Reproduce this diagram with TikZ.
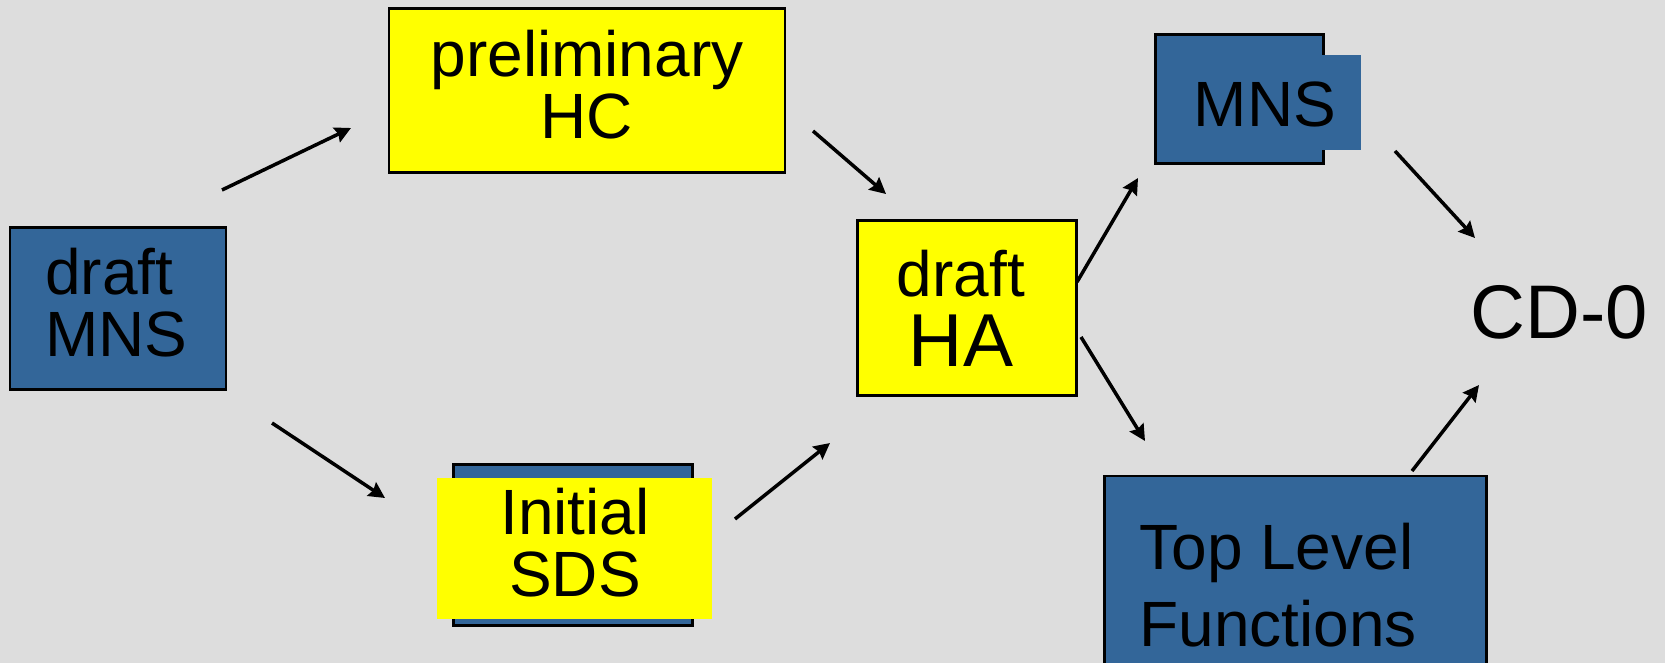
\documentclass[tikz,border=0pt]{standalone}
\usepackage{fontspec}
\setmainfont{Liberation Sans}
\usetikzlibrary{arrows.meta}
\definecolor{bgGrey}{HTML}{DDDDDD}
\definecolor{boxBlue}{HTML}{336699}
\definecolor{boxYellow}{HTML}{FFFF00}
\begin{document}
\begin{tikzpicture}[x=0.5pt,y=-0.5pt,
  bluebox/.style={draw=black, line width=1.2pt, fill=boxBlue, inner sep=0pt},
  yellowbox/.style={draw=black, line width=1.2pt, fill=boxYellow, inner sep=0pt},
  patch/.style={draw=none, inner sep=0pt},
  caption/.style={inner sep=0pt, align=center, text=black, font=\fontsize{32}{31}\selectfont},
  arr/.style={-{Stealth[length=8pt,width=8pt,inset=1pt]}, line width=1.75pt, draw=black}]

% canvas
\fill[bgGrey] (0,0) rectangle (1665,663);
\useasboundingbox (0,0) rectangle (1665,663);
\clip (0,0) rectangle (1665,663);

% boxes
\node[bluebox, minimum width=108pt, minimum height=81pt] (dmns) at (118,308.5) {};
\node[yellowbox, minimum width=198pt, minimum height=82pt] (hc) at (587,90.5) {};
\node[bluebox, minimum width=119.5pt, minimum height=80.5pt] (sdsback) at (573,545) {};
\node[patch, fill=boxYellow, minimum width=137.5pt, minimum height=70.5pt] (sds) at (574.5,548.5) {};
\node[yellowbox, minimum width=109.5pt, minimum height=87.5pt] (ha) at (967,308) {};
\node[bluebox, minimum width=84pt, minimum height=64.5pt] (mns) at (1239.5,99) {};
\node[patch, fill=boxBlue, minimum width=19.5pt, minimum height=47.5pt] (mnstab) at (1341.5,102.5) {};
\node[bluebox, minimum width=191pt, minimum height=130pt] (tlf) at (1295.5,606) {};

% captions
\node[caption, align=left, anchor=west] (dmns-t) at (45,303) {draft\\MNS};
\node[caption] (hc-t) at (587,84.5) {preliminary\\HC};
\node[caption] (sds-t) at (575,543) {Initial\\SDS};
\node[caption] (ha-t) at (961,308) {draft\\[4pt]{\fontsize{37.5}{35}\selectfont HA}};
\node[caption, anchor=center] (mns-t) at (1265,104) {MNS};
\node[caption, align=left, anchor=west, font=\fontsize{32}{38.5}\selectfont] (tlf-t) at (1139,585) {Top Level\\Functions};
\node[caption, font=\fontsize{38}{38}\selectfont] (cd0) at (1559.5,312) {CD-0};

% connector ends
\coordinate (dmns-up) at (222,190);
\coordinate (hc-in) at (351,128);
\coordinate (hc-out) at (813,131);
\coordinate (ha-in1) at (886,194);
\coordinate (dmns-down) at (272,423);
\coordinate (sds-in) at (385,498);
\coordinate (sds-out) at (735,519);
\coordinate (ha-in2) at (830,443);
\coordinate (ha-up) at (1077,282);
\coordinate (mns-in) at (1138,178);
\coordinate (ha-down) at (1081,337);
\coordinate (tlf-in) at (1145,441);
\coordinate (mns-out) at (1395,151);
\coordinate (cd0-in1) at (1475,238);
\coordinate (tlf-out) at (1412,471);
\coordinate (cd0-in2) at (1479,385);

% connectors
\draw[arr] (dmns-up) -- (hc-in);
\draw[arr] (hc-out) -- (ha-in1);
\draw[arr] (dmns-down) -- (sds-in);
\draw[arr] (sds-out) -- (ha-in2);
\draw[arr] (ha-up) -- (mns-in);
\draw[arr] (ha-down) -- (tlf-in);
\draw[arr] (mns-out) -- (cd0-in1);
\draw[arr] (tlf-out) -- (cd0-in2);
\end{tikzpicture}
\end{document}
